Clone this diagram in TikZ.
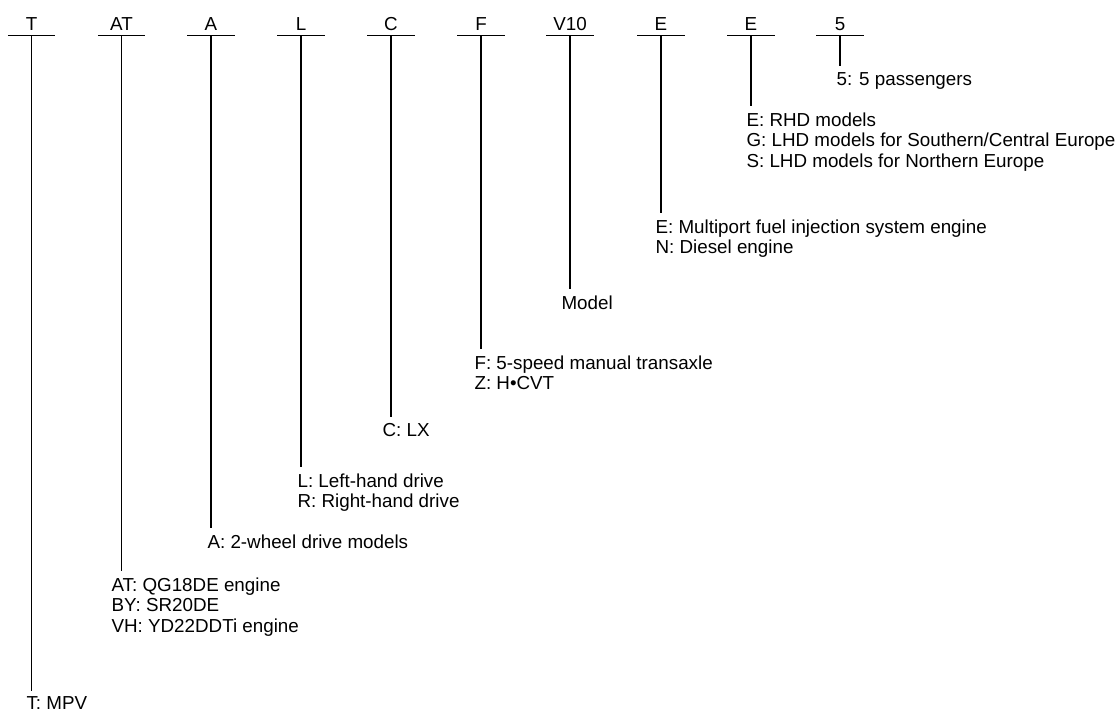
\documentclass[tikz,border=0pt]{standalone}
\usepackage{fontspec}
\setmainfont{Liberation Sans}
\usetikzlibrary{positioning}

\begin{document}
\begin{tikzpicture}[x=1pt, y=-1pt, line width=1.1pt,
    font=\fontsize{18.8}{20.8}\selectfont,
    code/.style={inner xsep=0pt, inner ysep=4.5pt, minimum width=46pt, text depth=0pt, anchor=base},
    lbl/.style={inner sep=0pt, anchor=north west, align=left}]
    \useasboundingbox (0,0) rectangle (1120,713);

    % code letters
    \node[code] (cT) at (31.5,30) {T};
    \node[code] (cAT) at (121.5,30) {AT};
    \node[code] (cA) at (211,30) {A};
    \node[code] (cL) at (301,30) {L};
    \node[code] (cC) at (391,30) {C};
    \node[code] (cF) at (481,30) {F};
    \node[code] (cV) at (570,30) {V10};
    \node[code] (cE) at (661,30) {E};
    \node[code] (cR) at (751,30) {E};
    \node[code] (cS) at (840,30) {5};

    % meanings
    \node[lbl] (mT) at (26,696.5) {T: MPV};
    \node[lbl] (mAT) at (111,577) {AT: QG18DE engine\\BY: SR20DE\\VH: YD22DDTi engine};
    \node[lbl] (mA) at (207,534) {A: 2-wheel drive models};
    \node[lbl] (mL) at (297,473) {L: Left-hand drive\\R: Right-hand drive};
    \node[lbl] (mC) at (382,423) {C: LX};
    \node[lbl] (mF) at (474,355) {F: 5-speed manual transaxle\\Z: H•CVT};
    \node[lbl] (mV) at (561,295) {Model};
    \node[lbl] (mE) at (655,219) {E: Multiport fuel injection system engine\\N: Diesel engine};
    \node[lbl] (mR) at (746,112) {E: RHD models\\G: LHD models for Southern/Central Europe\\S: LHD models for Northern Europe};
    \node[lbl] (mS) at (836,72) {5: 5 passengers};

    % underlines and leaders
    \foreach \n in {T,AT,A,L,C,F,V,E,R,S} {
        \draw (c\n.south west) -- (c\n.south east);
        \draw[shorten >=6pt] (c\n.south) -- (c\n.south |- m\n.north);
    }
\end{tikzpicture}
\end{document}
